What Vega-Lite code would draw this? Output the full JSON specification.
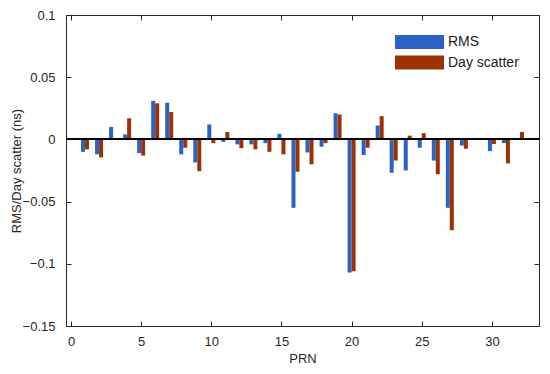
{
  "$schema": "https://vega.github.io/schema/vega-lite/v6.json",
  "autosize": {"type": "none"},
  "width": 473,
  "height": 311,
  "padding": {"left": 66, "top": 15, "right": 11, "bottom": 48},
  "background": "white",
  "config": {
    "font": "Liberation Sans",
    "view": {"stroke": "#262626", "strokeWidth": 1},
    "axis": {"grid": false, "domain": false, "tickColor": "#262626", "tickSize": 5, "offset": -5, "tickWidth": 1, "labelColor": "#262626", "labelFontSize": 13, "titleFontSize": 13, "titleFontWeight": "normal", "titleColor": "#262626", "labelFont": "Liberation Sans", "titleFont": "Liberation Sans"}
  },
  "data": {
    "values": [
      {"prn": 1, "RMS": -0.010, "Day scatter": -0.008},
      {"prn": 2, "RMS": -0.012, "Day scatter": -0.0145},
      {"prn": 3, "RMS": 0.010, "Day scatter": 0.0},
      {"prn": 4, "RMS": 0.004, "Day scatter": 0.017},
      {"prn": 5, "RMS": -0.011, "Day scatter": -0.013},
      {"prn": 6, "RMS": 0.031, "Day scatter": 0.029},
      {"prn": 7, "RMS": 0.0295, "Day scatter": 0.022},
      {"prn": 8, "RMS": -0.012, "Day scatter": -0.0067},
      {"prn": 9, "RMS": -0.0185, "Day scatter": -0.0255},
      {"prn": 10, "RMS": 0.012, "Day scatter": -0.003},
      {"prn": 11, "RMS": -0.002, "Day scatter": 0.006},
      {"prn": 12, "RMS": -0.004, "Day scatter": -0.007},
      {"prn": 13, "RMS": -0.004, "Day scatter": -0.008},
      {"prn": 14, "RMS": -0.003, "Day scatter": -0.010},
      {"prn": 15, "RMS": 0.0045, "Day scatter": -0.012},
      {"prn": 16, "RMS": -0.055, "Day scatter": -0.026},
      {"prn": 17, "RMS": -0.0105, "Day scatter": -0.020},
      {"prn": 18, "RMS": -0.006, "Day scatter": -0.003},
      {"prn": 19, "RMS": 0.021, "Day scatter": 0.020},
      {"prn": 20, "RMS": -0.107, "Day scatter": -0.106},
      {"prn": 21, "RMS": -0.0126, "Day scatter": -0.0067},
      {"prn": 22, "RMS": 0.0112, "Day scatter": 0.0187},
      {"prn": 23, "RMS": -0.0268, "Day scatter": -0.017},
      {"prn": 24, "RMS": -0.025, "Day scatter": 0.003},
      {"prn": 25, "RMS": -0.0067, "Day scatter": 0.005},
      {"prn": 26, "RMS": -0.017, "Day scatter": -0.028},
      {"prn": 27, "RMS": -0.055, "Day scatter": -0.073},
      {"prn": 28, "RMS": -0.005, "Day scatter": -0.0075},
      {"prn": 29, "RMS": 0.0, "Day scatter": 0.0},
      {"prn": 30, "RMS": -0.0094, "Day scatter": -0.0037},
      {"prn": 31, "RMS": -0.003, "Day scatter": -0.0193},
      {"prn": 32, "RMS": 0.0, "Day scatter": 0.006}
    ]
  },
  "transform": [{"fold": ["RMS", "Day scatter"], "as": ["series", "value"]}],
  "layer": [
    {
      "transform": [{"filter": "datum.series === 'RMS'"}],
      "mark": {"type": "bar", "size": 4, "xOffset": -2},
      "encoding": {
        "x": {"field": "prn", "type": "quantitative", "scale": {"domain": [0, 33], "nice": false}, "axis": {"values": [0, 5, 10, 15, 20, 25, 30], "title": "PRN", "labelPadding": 9, "titlePadding": 4}},
        "y": {"field": "value", "type": "quantitative", "scale": {"domain": [-0.15, 0.1], "nice": false}, "axis": {"values": [-0.15, -0.1, -0.05, 0, 0.05, 0.1], "format": ".2~f", "title": "RMS/Day scatter (ns)", "labelPadding": 11, "titlePadding": -1}},
        "color": {"field": "series", "type": "nominal", "scale": {"domain": ["RMS", "Day scatter"], "range": ["#2a62c6", "#9c3204"]}, "legend": {"title": null, "orient": "none", "legendX": 346.5, "legendY": 20, "symbolType": "M-3.5,-1H3.5V1H-3.5Z", "symbolSize": 196, "symbolStrokeWidth": 0, "labelFontSize": 14, "labelFont": "Liberation Sans", "labelColor": "#1a1a1a", "labelOffset": 21.5, "rowPadding": 6.5, "padding": 0}}
      }
    },
    {
      "transform": [{"filter": "datum.series === 'Day scatter'"}],
      "mark": {"type": "bar", "size": 4, "xOffset": 2},
      "encoding": {
        "x": {"field": "prn", "type": "quantitative", "axis": {"orient": "top", "values": [0, 5, 10, 15, 20, 25, 30], "labels": false, "title": null}},
        "y": {"field": "value", "type": "quantitative", "axis": {"orient": "right", "values": [-0.15, -0.1, -0.05, 0, 0.05, 0.1], "labels": false, "title": null}},
        "color": {"field": "series", "type": "nominal"}
      }
    },
    {
      "mark": {"type": "rule", "color": "#000000", "strokeWidth": 1},
      "encoding": {"y": {"datum": 0, "type": "quantitative", "axis": null}}
    }
  ],
  "resolve": {"axis": {"x": "independent", "y": "independent"}}
}
